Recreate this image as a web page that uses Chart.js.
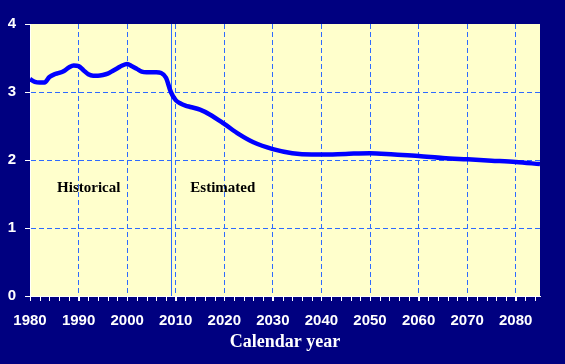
<!DOCTYPE html>
<html>
<head>
<meta charset="utf-8">
<script src="https://cdn.jsdelivr.net/npm/chart.js@4.4.1/dist/chart.umd.min.js"></script>
<style>
  html, body { margin: 0; padding: 0; background: #000080; }
  #wrap { width: 565px; height: 364px; }
</style>
</head>
<body>
<div id="wrap"><canvas id="c" width="565" height="364"></canvas></div>
<script>
// ---- Data ----
const years = [1980,1981,1982,1983,1984,1985,1986,1987,1988,1989,1990,1991,1992,1993,1994,1995,1996,1997,1998,1999,
  2000,2001,2002,2003,2004,2005,2006,2007,2008,2009,2010,2011,2012,2013,2015,2017,2020,2023,2026,2030,2034,2038,2040,
  2045,2050,2055,2060,2065,2070,2075,2080,2085];
const ratio = [3.19,3.15,3.14,3.14,3.22,3.26,3.28,3.31,3.36,3.39,3.38,3.32,3.26,3.24,3.24,3.25,3.27,3.31,3.35,3.39,
  3.41,3.38,3.34,3.30,3.29,3.29,3.29,3.28,3.21,3.00,2.88,2.83,2.80,2.78,2.74,2.67,2.53,2.38,2.26,2.16,2.10,2.08,2.08,
  2.09,2.10,2.08,2.06,2.03,2.01,1.99,1.97,1.94];
const xTickYears = [1980,1990,2000,2010,2020,2030,2040,2050,2060,2070,2080];
const yTickValues = [0,1,2,3,4];
const dividerYear = 2009;
const periodLabels = [
  { text: "Historical", year: 1992.1, value: 1.59 },
  { text: "Estimated", year: 2019.7, value: 1.59 }
];
const xAxisTitle = "Calendar year";

const NAVY = "#000080";
const PLOT_BG = "#FFFFCC";
const GRID = "#2E6BFF";

const bgPlugin = {
  id: "bg",
  beforeDraw(chart) {
    const { ctx, chartArea: a } = chart;
    ctx.save();
    ctx.fillStyle = NAVY;
    ctx.fillRect(0, 0, chart.width, chart.height);
    ctx.fillStyle = PLOT_BG;
    ctx.fillRect(a.left, a.top, a.right - a.left, a.bottom - a.top);
    ctx.restore();
  },
  beforeDatasetsDraw(chart) {
    const { ctx, chartArea: a, scales: { x, y } } = chart;
    ctx.save();
    ctx.setLineDash([]);
    // divider line
    const px = Math.round(x.getPixelForValue(dividerYear)) + 0.5;
    ctx.strokeStyle = GRID;
    ctx.lineWidth = 1;
    ctx.beginPath();
    ctx.moveTo(px, a.top);
    ctx.lineTo(px, a.bottom);
    ctx.stroke();
    // minor ticks every 2 years
    ctx.strokeStyle = "#FFFFFF";
    ctx.lineWidth = 1;
    for (let yr = x.min; yr <= x.max; yr += 2) {
      const tx = Math.round(x.getPixelForValue(yr)) + 0.5;
      ctx.beginPath();
      ctx.moveTo(tx, a.bottom);
      ctx.lineTo(tx, a.bottom + 5);
      ctx.stroke();
    }
    // period labels
    ctx.fillStyle = "#000000";
    ctx.font = "bold 15px 'Liberation Serif', 'Times New Roman', serif";
    ctx.textAlign = "center";
    ctx.textBaseline = "middle";
    periodLabels.forEach(l => {
      ctx.fillText(l.text, x.getPixelForValue(l.year), y.getPixelForValue(l.value));
    });
    ctx.restore();
  }
};

new Chart(document.getElementById("c"), {
  type: "line",
  data: {
    datasets: [{
      data: years.map((yr, i) => ({ x: yr, y: ratio[i] })),
      borderColor: "#0000FF",
      borderWidth: 4.5,
      pointRadius: 0,
      cubicInterpolationMode: "monotone",
      fill: false
    }]
  },
  options: {
    responsive: false,
    animation: false,
    devicePixelRatio: 1,
    layout: { padding: { top: 24, right: 25, left: 0, bottom: 0 } },
    plugins: { legend: { display: false }, tooltip: { enabled: false } },
    scales: {
      x: {
        type: "linear",
        min: 1980,
        max: 2085,
        afterBuildTicks: s => { s.ticks = xTickYears.map(v => ({ value: v })); },
        afterFit: s => { s.height = 68; },
        grid: {
          color: c => (c.tick && c.tick.value === 1980) ? "rgba(0,0,0,0)" : GRID,
          lineWidth: 1,
          tickColor: "#FFFFFF",
          tickLength: 5,
          drawTicks: true
        },
        border: { color: "#FFFFFF", width: 1, dash: [5, 3] },
        ticks: {
          color: "#FFFFFF",
          padding: 11,
          maxRotation: 0,
          font: { family: "'Liberation Sans', Arial, sans-serif", weight: "bold", size: 15 },
          callback: v => String(v)
        },
        title: {
          display: true,
          text: xAxisTitle,
          color: "#FFFFFF",
          font: { family: "'Liberation Serif', 'Times New Roman', serif", weight: "bold", size: 18 },
          padding: { top: 2, bottom: 11 }
        }
      },
      y: {
        min: 0,
        max: 4,
        afterBuildTicks: s => { s.ticks = yTickValues.map(v => ({ value: v })); },
        afterFit: s => { s.width = 30; },
        grid: {
          color: c => (c.tick && c.tick.value === 4) ? "rgba(0,0,0,0)" : GRID,
          lineWidth: 1,
          tickColor: "#FFFFFF",
          tickLength: 5
        },
        border: { color: "#FFFFFF", width: 1, dash: [5, 3] },
        ticks: {
          color: "#FFFFFF",
          padding: 9,
          font: { family: "'Liberation Sans', Arial, sans-serif", weight: "bold", size: 15 }
        }
      }
    }
  },
  plugins: [bgPlugin]
});
</script>
</body>
</html>
